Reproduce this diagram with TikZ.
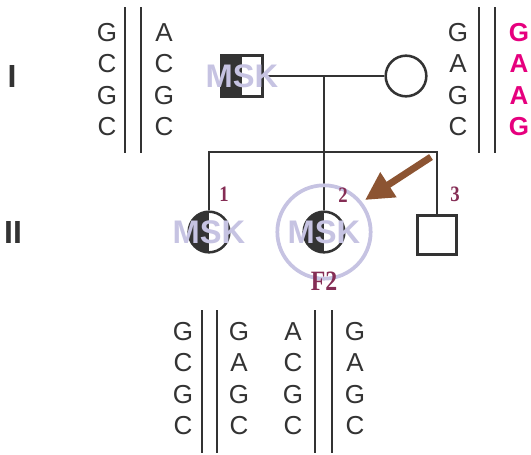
\documentclass[tikz,border=0pt]{standalone}
\usepackage{fontspec}
\setmainfont{Liberation Serif}
\setsansfont{Liberation Sans}
\newfontfamily\plumfont[FakeStretch=0.85]{Liberation Serif}
\definecolor{pedGray}{RGB}{51,51,51}
\definecolor{mskLilac}{RGB}{198,195,226}
\definecolor{numPlum}{RGB}{133,45,85}
\definecolor{snpPink}{RGB}{230,0,126}
\definecolor{arrowBrown}{RGB}{140,84,50}
\usetikzlibrary{arrows.meta,positioning}

\begin{document}
\begin{tikzpicture}[x=0.75pt, y=-0.75pt,
  base/.style={font=\sffamily\fontsize{19.5}{22}\selectfont, text=pedGray,
               inner sep=0pt, text height=14pt, text depth=0pt},
  alt/.style={base, font=\sffamily\bfseries\fontsize{19.5}{22}\selectfont, text=snpPink},
  strand/.style={pedGray, line width=2.2pt},
  link/.style={pedGray, line width=1.9pt},
  male/.style={draw=pedGray, line width=1.9pt, minimum size=30.5pt, inner sep=0pt, fill=white},
  female/.style={male, circle, minimum size=30.5pt},
  carrier/.style={path picture={\fill[pedGray] (path picture bounding box.north west)
                  rectangle (path picture bounding box.south);}},
  msk/.style={font=\sffamily\bfseries\fontsize{24.5}{24}\selectfont, text=mskLilac, inner sep=0pt},
  num/.style={font=\plumfont\bfseries\fontsize{16.5}{16}\selectfont, text=numPlum, inner sep=0pt},
  gen/.style={font=\sffamily\bfseries\fontsize{24}{24}\selectfont, text=pedGray, inner sep=0pt},
  pointer/.style={arrowBrown, line width=5.2pt, -{Triangle[length=21pt, width=21pt]}}
]
  \useasboundingbox (0,0) rectangle (531,454);

  % generation labels
  \node[gen] (genI)  at (12,76)  {I};
  \node[gen] (genII) at (13,232) {II};

  % sequences, generation I
  \draw[strand] (125,7) -- (125,153);
  \draw[strand] (141,7) -- (141,153);
  \foreach \l [count=\i] in {G,C,G,C}
    \node[base] (fa-a\i) at (107,{32+31.4*(\i-1)}) {\l};
  \foreach \l [count=\i] in {A,C,G,C}
    \node[base] (fa-b\i) at (164,{32+31.4*(\i-1)}) {\l};

  \draw[strand] (479,7) -- (479,153);
  \draw[strand] (495,7) -- (495,153);
  \foreach \l [count=\i] in {G,A,G,C}
    \node[base] (mo-a\i) at (458,{32+31.4*(\i-1)}) {\l};
  \foreach \l [count=\i] in {G,A,A,G}
    \node[alt] (mo-b\i) at (519,{32+31.4*(\i-1)}) {\l};

  % sequences, generation II
  \draw[strand] (202,310) -- (202,453);
  \draw[strand] (217,310) -- (217,453);
  \draw[strand] (315,310) -- (315,453);
  \draw[strand] (332,310) -- (332,453);
  \foreach \l [count=\i] in {G,C,G,C}
    \node[base] (kid-a\i) at (183,{331+31.5*(\i-1)}) {\l};
  \foreach \l [count=\i] in {G,A,G,C}
    \node[base] (kid-b\i) at (239,{331+31.5*(\i-1)}) {\l};
  \foreach \l [count=\i] in {A,C,G,C}
    \node[base] (kid-c\i) at (293,{331+31.5*(\i-1)}) {\l};
  \foreach \l [count=\i] in {G,A,G,C}
    \node[base] (kid-d\i) at (355,{331+31.5*(\i-1)}) {\l};

  % pedigree
  \node[male, carrier]   (fa) at (242,76)  {};
  \node[female]          (mo) at (406,76)  {};
  \node[female, carrier] (c1) at (209,232) {};
  \node[female, carrier] (c2) at (324,232) {};
  \node[male, minimum size=29.5pt] (c3) at (437,235) {};
  \coordinate (mid) at (324,76);
  \coordinate (sib) at (324,152);

  \draw[link] (fa) -- (mo);
  \draw[link] (mid) -- (c2.north);
  \draw[link] (c1.north) -- (c1.north |- sib) -- (c3.north |- sib) -- (c3.north);

  % MSK overlays
  \node[msk] (fa-msk) at (fa) {MSK};
  \node[msk] (c1-msk) at (c1) {MSK};
  \node[msk] (c2-msk) at (c2) {MSK};

  % proband
  \node[draw=mskLilac, line width=2.8pt, circle, minimum size=70pt] (ring) at (c2) {};
  \node[num, font=\plumfont\bfseries\fontsize{21}{21}\selectfont] (f2) at (324,281) {F2};
  \node[num] (n1) at (224,194) {1};
  \node[num] (n2) at (343,195) {2};
  \node[num] (n3) at (455,194) {3};

  \coordinate (ptail) at (431,157);
  \coordinate (ptip)  at (365,200);
  \draw[pointer] (ptail) -- (ptip);
\end{tikzpicture}
\end{document}
